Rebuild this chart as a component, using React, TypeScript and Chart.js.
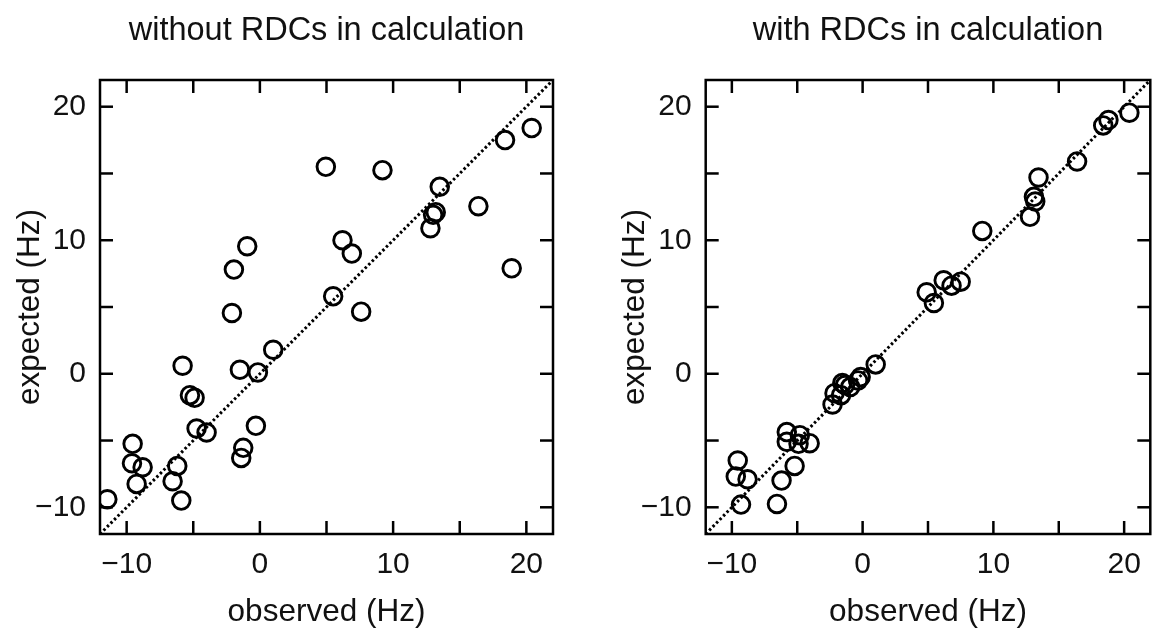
import React, { useEffect, useRef } from "react";
import { Chart, registerables } from "chart.js";

Chart.register(...registerables);

// ---- data ----
const leftTitle = "without RDCs in calculation";
const rightTitle = "with RDCs in calculation";
const xAxisTitle = "observed (Hz)";
const yAxisTitle = "expected (Hz)";

const axisMin = -12;
const axisMax = 22;
const tickStep = 5;
const labelStep = 10;

const leftObserved = [-11.45, -9.55, -9.6, -8.8, -9.25, -6.55, -6.2, -5.9, -5.8, -5.25, -4.9, -4.75, -4.0, -1.25, -1.4, -0.3, -1.5, -0.15, 1.0, -2.1, -1.95, -0.95, 4.95, 9.2, 5.5, 6.2, 6.9, 7.6, 12.8, 13.2, 13.0, 13.5, 16.4, 18.4, 18.9, 20.4];
const leftExpected = [-9.4, -5.25, -6.7, -7.0, -8.25, -8.05, -6.9, -9.5, 0.6, -1.6, -1.8, -4.1, -4.4, -5.55, -6.3, -3.9, 0.3, 0.1, 1.8, 4.55, 7.8, 9.55, 15.5, 15.25, 5.8, 10.0, 9.0, 4.65, 10.9, 12.1, 11.9, 14.0, 12.55, 17.5, 7.9, 18.4];

const rightObserved = [-9.3, -9.55, -9.7, -8.8, -6.55, -6.2, -5.2, -5.8, -5.8, -4.9, -4.8, -4.05, -2.3, -2.15, -1.65, -1.55, -1.35, -0.95, -0.35, -0.15, 1.0, 4.9, 5.45, 6.2, 6.8, 7.5, 9.15, 12.8, 13.1, 13.2, 13.45, 16.4, 18.4, 18.8, 20.4];
const rightExpected = [-9.8, -6.5, -7.7, -7.9, -9.75, -8.0, -6.9, -4.37, -5.1, -5.25, -4.6, -5.2, -2.3, -1.45, -1.6, -0.7, -0.85, -1.0, -0.5, -0.25, 0.7, 6.1, 5.3, 7.0, 6.6, 6.9, 10.7, 11.75, 13.25, 12.9, 14.7, 15.9, 18.6, 19.0, 19.55];

const diagonal = [axisMin, axisMax];

const FONT = "'Liberation Sans', Arial, Helvetica, sans-serif";

const framePlugin = {
  id: "frameTicks",
  afterDatasetsDraw(chart: any) {
    const { ctx, chartArea: a, scales } = chart;
    const L = 13;
    ctx.save();
    ctx.strokeStyle = "#000";
    ctx.lineWidth = 2.5;
    const line = (x1: number, y1: number, x2: number, y2: number) => {
      ctx.beginPath();
      ctx.moveTo(x1, y1);
      ctx.lineTo(x2, y2);
      ctx.stroke();
    };
    scales.x.ticks.forEach((t: any) => {
      const px = scales.x.getPixelForValue(t.value);
      line(px, a.bottom, px, a.bottom - L);
      line(px, a.top, px, a.top + L);
    });
    scales.y.ticks.forEach((t: any) => {
      const py = scales.y.getPixelForValue(t.value);
      line(a.left, py, a.left + L, py);
      line(a.right, py, a.right - L, py);
    });
    ctx.strokeRect(a.left, a.top, a.right - a.left, a.bottom - a.top);
    ctx.restore();
  },
};

const fmt = (v: number) =>
  v % labelStep === 0 ? (v < 0 ? "\u2212" + Math.abs(v) : String(v)) : "";

function makeConfig(
  title: string,
  xs: number[],
  ys: number[],
  yAxisWidth: number,
  yTitlePad: number,
  rightPad: number
): any {
  const pts = xs.map((x, i) => ({ x, y: ys[i] }));
  return {
    type: "scatter",
    data: {
      datasets: [
        {
          data: diagonal.map((v) => ({ x: v, y: v })),
          showLine: true,
          borderColor: "#000",
          borderWidth: 3,
          borderDash: [2.5, 2.5],
          pointRadius: 0,
        },
        {
          data: pts,
          showLine: false,
        },
      ],
    },
    options: {
      responsive: false,
      animation: false,
      events: [],
      layout: { padding: { left: 0, right: rightPad, top: 0, bottom: 0 } },
      elements: {
        point: {
          radius: 8.8,
          borderWidth: 2.9,
          backgroundColor: "rgba(0,0,0,0)",
          borderColor: "#000",
        },
      },
      plugins: {
        legend: { display: false },
        tooltip: { enabled: false },
        title: {
          display: true,
          text: title,
          fullSize: false,
          color: "#111",
          font: { family: FONT, size: 32.5, weight: "normal" },
          padding: { top: 11.5, bottom: 29.5 },
        },
      },
      scales: {
        x: {
          type: "linear",
          min: axisMin,
          max: axisMax,
          grid: { display: false, drawTicks: false },
          border: { display: false },
          ticks: {
            stepSize: tickStep,
            includeBounds: false,
            autoSkip: false,
            maxRotation: 0,
            padding: 12.5,
            color: "#111",
            font: { family: FONT, size: 30 },
            callback: (v: any) => fmt(Number(v)),
          },
          title: {
            display: true,
            text: xAxisTitle,
            color: "#111",
            font: { family: FONT, size: 31.5 },
            padding: { top: 0, bottom: 2 },
          },
          afterFit: (s: any) => {
            s.height = 99;
          },
        },
        y: {
          type: "linear",
          min: axisMin,
          max: axisMax,
          grid: { display: false, drawTicks: false },
          border: { display: false },
          ticks: {
            stepSize: tickStep,
            includeBounds: false,
            autoSkip: false,
            padding: 14,
            color: "#111",
            font: { family: FONT, size: 30 },
            callback: (v: any) => fmt(Number(v)),
          },
          title: {
            display: true,
            text: yAxisTitle,
            color: "#111",
            font: { family: FONT, size: 31.5 },
            padding: { top: yTitlePad, bottom: 0 },
          },
          afterFit: (s: any) => {
            s.width = yAxisWidth;
          },
        },
      },
    },
    plugins: [framePlugin],
  };
}

function Panel(props: { left: number; width: number; cfg: any }) {
  const ref = useRef<HTMLCanvasElement | null>(null);
  useEffect(() => {
    if (!ref.current) return;
    const chart = new Chart(ref.current, props.cfg);
    return () => chart.destroy();
  }, []);
  return (
    <canvas
      ref={ref}
      width={props.width}
      height={633}
      style={{
        position: "absolute",
        left: props.left,
        top: 0,
        width: props.width,
        height: 633,
      }}
    />
  );
}

export default function App() {
  const leftCfg = makeConfig(leftTitle, leftObserved, leftExpected, 100, 11.1, 27);
  const rightCfg = makeConfig(rightTitle, rightObserved, rightExpected, 125.7, 36.8, 3);
  return (
    <div
      style={{
        position: "fixed",
        left: 0,
        top: 0,
        width: 1162,
        height: 633,
        background: "#fff",
        overflow: "hidden",
      }}
    >
      <Panel left={0} width={580} cfg={leftCfg} />
      <Panel left={580} width={582} cfg={rightCfg} />
    </div>
  );
}
